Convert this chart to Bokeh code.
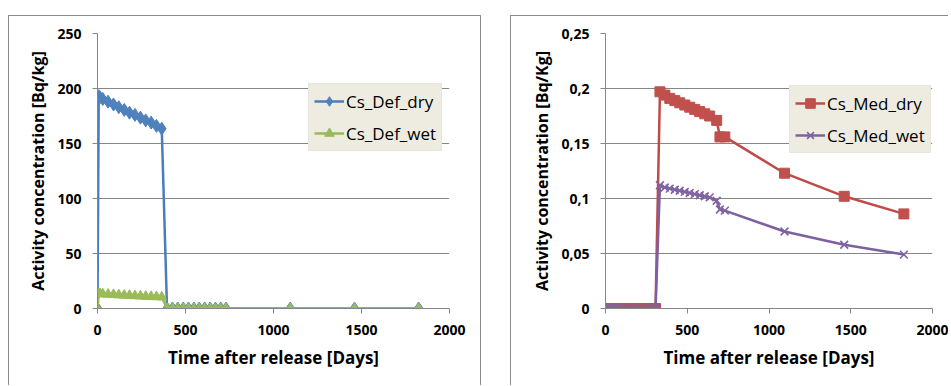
from bokeh.plotting import figure
from bokeh.models import (Legend, LegendItem, CustomJSTickFormatter, FixedTicker,
                          Range1d)
from bokeh.layouts import row
from bokeh.embed import file_html
from bokeh.resources import INLINE

# ---------------- data ----------------
def_days = [0, 7, 14, 30, 60, 91, 121, 152, 182, 213, 244, 274, 305, 335, 365,
            395, 426, 456, 487, 517, 548, 578, 609, 640, 670, 700, 730, 1095, 1460, 1825]
def_dry = [0, 193, 192, 190.5, 188, 185.5, 183, 180.5, 178, 176, 173.5, 171, 169, 166, 163.5,
           0, 0, 0, 0, 0, 0, 0, 0, 0, 0, 0, 0, 0, 0, 0]
def_wet = [0, 13.5, 13.4, 13.2, 12.9, 12.6, 12.3, 12.0, 11.8, 11.5, 11.3, 11.0, 10.8, 10.6, 10.4,
           0, 0, 0, 0, 0, 0, 0, 0, 0, 0, 0, 0, 0, 0, 0]

med_days = [0, 7, 14, 21, 30, 45, 60, 75, 91, 121, 152, 182, 213, 244, 274, 306,
            333, 363, 393, 424, 454, 485, 515, 546, 576, 607, 637, 680, 700, 730, 1095, 1460, 1825]
med_dry = [0, 0, 0, 0, 0, 0, 0, 0, 0, 0, 0, 0, 0, 0, 0, 0,
           0.197, 0.194, 0.191, 0.189, 0.187, 0.185, 0.183, 0.181, 0.179, 0.177, 0.175, 0.171,
           0.156, 0.156, 0.123, 0.102, 0.086]
med_wet = [0, 0, 0, 0, 0, 0, 0, 0, 0, 0, 0, 0, 0, 0, 0, 0,
           0.112, 0.110, 0.109, 0.108, 0.107, 0.106, 0.105, 0.104, 0.103, 0.102, 0.101, 0.098,
           0.090, 0.089, 0.070, 0.058, 0.049]

x_ticks = [0, 500, 1000, 1500, 2000]
def_y_ticks = [0, 50, 100, 150, 200, 250]
med_y_ticks = [0, 0.05, 0.1, 0.15, 0.2, 0.25]

x_title = "Time after release [Days]"
def_y_title = "Activity concentration [Bq/kg]"
med_y_title = "Activity concentration [Bq/Kg]"

FONT = "Open Sans"
GREY = "#868686"
BORDER = "1px solid #8c8c8c"


def make_fig(width, ymax, yticks, ytitle, mb_left, mb_right):
    p = figure(width=width, height=370, x_range=Range1d(0, 2000), y_range=Range1d(0, ymax),
               output_backend="svg", toolbar_location=None,
               min_border_left=mb_left, min_border_right=mb_right,
               min_border_top=17, min_border_bottom=78)
    p.outline_line_color = None
    p.xgrid.grid_line_color = None
    p.ygrid.grid_line_color = GREY
    p.ygrid.grid_line_width = 1
    p.xaxis.ticker = FixedTicker(ticks=x_ticks)
    p.yaxis.ticker = FixedTicker(ticks=yticks)
    for ax in (p.xaxis[0], p.yaxis[0]):
        ax.axis_line_color = GREY
        ax.major_tick_line_color = GREY
        ax.major_tick_out = 5
        ax.major_tick_in = 0
        ax.minor_tick_line_color = None
        ax.major_label_text_font = FONT
        ax.major_label_text_font_style = "bold"
        ax.major_label_text_font_size = "14px"
        ax.major_label_text_color = "#000000"
        ax.axis_label_text_font = FONT
        ax.axis_label_text_font_style = "bold"
        ax.axis_label_text_color = "#000000"
    p.xaxis.axis_label_text_font_size = "17px"
    p.yaxis.axis_label_text_font_size = "16px"
    p.xaxis.axis_label = x_title
    p.yaxis.axis_label = ytitle
    p.xaxis.major_label_standoff = 11
    p.xaxis.axis_label_standoff = 8
    p.yaxis.major_label_standoff = 11
    p.yaxis.axis_label_standoff = 5
    return p


def add_series(p, x, y, color, fill, marker, size):
    ln = p.line(x, y, line_color=color, line_width=2.5)
    if marker == "x":
        sc = p.scatter(x, y, marker="x", size=size, line_color=fill, line_width=1.6)
    else:
        sc = p.scatter(x, y, marker=marker, size=size, fill_color=fill, line_color=fill)
    return [ln, sc]


def add_legend(p, items, loc):
    lg = Legend(items=items, location=loc)
    lg.background_fill_color = "#EEECE1"
    lg.background_fill_alpha = 1.0
    lg.border_line_color = "#e2e0d6"
    lg.label_text_font = FONT
    lg.label_text_font_size = "17px"
    lg.label_text_color = "#000000"
    lg.glyph_width = 30
    lg.glyph_height = 24
    lg.label_height = 24
    lg.label_standoff = 2
    lg.spacing = 8
    lg.padding = 5
    lg.margin = 0
    p.add_layout(lg, "center")


# left chart
left = make_fig(473, 250, def_y_ticks, def_y_title, 88, 33)
left.margin = (15, 0, 0, 8)
left.styles = {"border-top": BORDER, "border-left": BORDER, "border-right": BORDER}
r1 = add_series(left, def_days, def_dry, "#4A7EBB", "#4F81BD", "diamond", 13)
r2 = add_series(left, def_days, def_wet, "#98B954", "#9BBB59", "triangle", 10)
add_legend(left, [LegendItem(label="Cs_Def_dry", renderers=r1),
                  LegendItem(label="Cs_Def_wet", renderers=r2)], (211, 157))

# right chart
right = make_fig(438, 0.25, med_y_ticks, med_y_title, 94, 17)
right.margin = (15, 0, 0, 29)
right.styles = {"border-top": BORDER, "border-left": BORDER}
right.yaxis.formatter = CustomJSTickFormatter(
    code="return Number(tick.toFixed(2)).toString().replace('.', ',');")
r3 = add_series(right, med_days, med_dry, "#BE4B48", "#C0504D", "square", 10)
r4 = add_series(right, med_days, med_wet, "#7D60A0", "#8064A2", "x", 11)
add_legend(right, [LegendItem(label="Cs_Med_dry", renderers=r3),
                   LegendItem(label="Cs_Med_wet", renderers=r4)], (184, 155))

layout = row(left, right)
open("out.html", "w").write(file_html(layout, INLINE))
